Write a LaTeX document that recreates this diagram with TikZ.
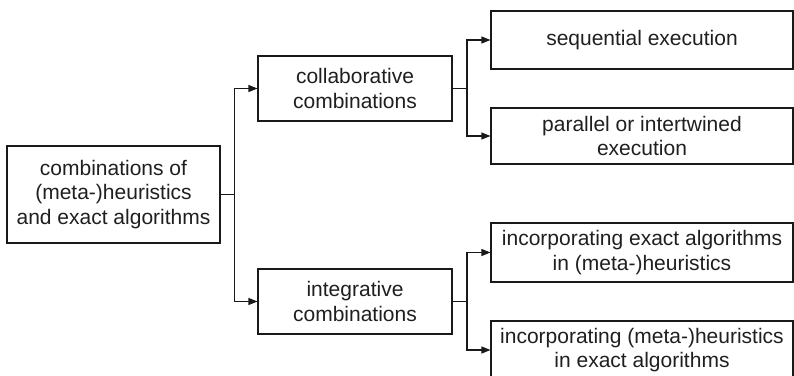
\documentclass[tikz,border=0pt]{standalone}
\usepackage{fontspec}
\setmainfont{Liberation Sans}
\usetikzlibrary{arrows.meta}
\begin{document}
\begin{tikzpicture}[x=1pt,y=-1pt,
  box/.style={draw=black!90, line width=1.1pt, inner sep=0pt, align=center,
    text=black!88, font=\fontsize{21}{24.5}\selectfont},
  link/.style={draw=black!90, line width=1.1pt, -{Triangle[length=9pt,width=7pt]}},
  joint/.style={draw=black!90, line width=1.1pt}]
\useasboundingbox (0,0) rectangle (794,375);

% root
\node[box, minimum width=213pt, minimum height=97pt] (root) at (113.5,194.5)
  {combinations of\\(meta-)heuristics\\and exact algorithms};

% two families
\node[box, minimum width=194pt, minimum height=65pt] (collab) at (355,88.5)
  {collaborative\\combinations};
\node[box, minimum width=194pt, minimum height=65pt] (integ) at (355,301.5)
  {integrative\\combinations};

% leaves
\node[box, minimum width=302pt, minimum height=58pt] (seq) at (642,40)
  {sequential execution};
\node[box, minimum width=302pt, minimum height=56pt] (par) at (642,136)
  {parallel or intertwined\\execution};
\node[box, minimum width=302pt, minimum height=59pt] (exinmh) at (642,252.5)
  {incorporating exact algorithms\\in (meta-)heuristics};
\node[box, minimum width=302pt, minimum height=58pt] (mhinex) at (642,350)
  {incorporating (meta-)heuristics\\in exact algorithms};

% branch points
\coordinate (j0) at (234.5,194.5);
\coordinate (j1) at (467,88.5);
\coordinate (j2) at (467,301.5);

\draw[joint] (root.east) -- (j0);
\draw[link] (j0) |- (collab.west);
\draw[link] (j0) |- (integ.west);

\draw[joint] (collab.east) -- (j1);
\draw[link] (j1) |- (seq.west);
\draw[link] (j1) |- (par.west);

\draw[joint] (integ.east) -- (j2);
\draw[link] (j2) |- (exinmh.west);
\draw[link] (j2) |- (mhinex.west);
\end{tikzpicture}
\end{document}
